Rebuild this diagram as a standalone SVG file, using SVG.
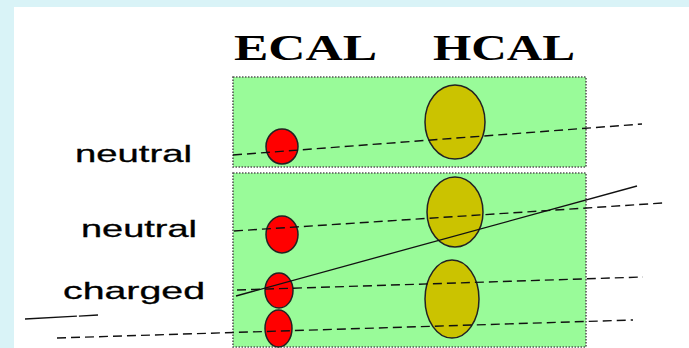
<svg xmlns="http://www.w3.org/2000/svg" width="689" height="348" viewBox="0 0 689 348">
<style>
.box{fill:#99fb99;stroke:#555;stroke-width:1.6;stroke-dasharray:1.5 1.5}
.ecal{fill:#ff0000;stroke:#222;stroke-width:1.5}
.hcal{fill:#cbc300;stroke:#222;stroke-width:1.5}
.dash{fill:none;stroke:#111;stroke-width:1.4;stroke-dasharray:9 5}
.solid{fill:none;stroke:#111;stroke-width:1.3}
.hdr{font-family:"Liberation Serif","Times New Roman",serif;font-size:35px;font-weight:bold;fill:#000}
.lbl{font-family:"Liberation Sans",Arial,sans-serif;font-size:24px;fill:#000;stroke:#000;stroke-width:0.3}
</style>
<rect x="0" y="0" width="689" height="348" fill="#d9f3f7"/>
<rect x="14" y="7" width="675" height="341" fill="#ffffff"/>
<g id="headers">
<text class="hdr" x="234" y="60" textLength="143" lengthAdjust="spacingAndGlyphs">ECAL</text>
<text class="hdr" x="433" y="60" textLength="142" lengthAdjust="spacingAndGlyphs">HCAL</text>
</g>
<g id="box-top"><rect class="box" x="233" y="77" width="353" height="90"/></g>
<g id="box-bottom"><rect class="box" x="233" y="173" width="353" height="174"/></g>
<g id="labels">
<text class="lbl" x="75" y="162" textLength="117" lengthAdjust="spacingAndGlyphs">neutral</text>
<text class="lbl" x="81" y="237" textLength="116" lengthAdjust="spacingAndGlyphs">neutral</text>
<text class="lbl" x="63" y="299" textLength="142" lengthAdjust="spacingAndGlyphs">charged</text>
</g>
<g id="ecal-deposits">
<ellipse class="ecal" cx="282" cy="146.5" rx="16" ry="17.5"/>
<ellipse class="ecal" cx="282" cy="234.5" rx="16" ry="18.5"/>
<ellipse class="ecal" cx="279" cy="290.5" rx="14" ry="17.5"/>
<ellipse class="ecal" cx="278.5" cy="328.5" rx="13.5" ry="18.5"/>
</g>
<g id="hcal-deposits">
<ellipse class="hcal" cx="455" cy="122" rx="30" ry="37"/>
<ellipse class="hcal" cx="455" cy="212" rx="28" ry="35"/>
<ellipse class="hcal" cx="452" cy="299" rx="27" ry="39"/>
</g>
<g id="connectors">
<line class="dash" x1="233" y1="155" x2="642" y2="124"/>
<line class="dash" x1="234" y1="231" x2="663" y2="203"/>
<line class="dash" x1="237" y1="290" x2="643" y2="277"/>
<line class="dash" x1="57" y1="338" x2="633" y2="320"/>
<line class="solid" x1="236" y1="296" x2="637" y2="186"/>
<line class="solid" x1="25" y1="319" x2="98" y2="315" stroke-dasharray="52 2 30"/>
</g>
</svg>
